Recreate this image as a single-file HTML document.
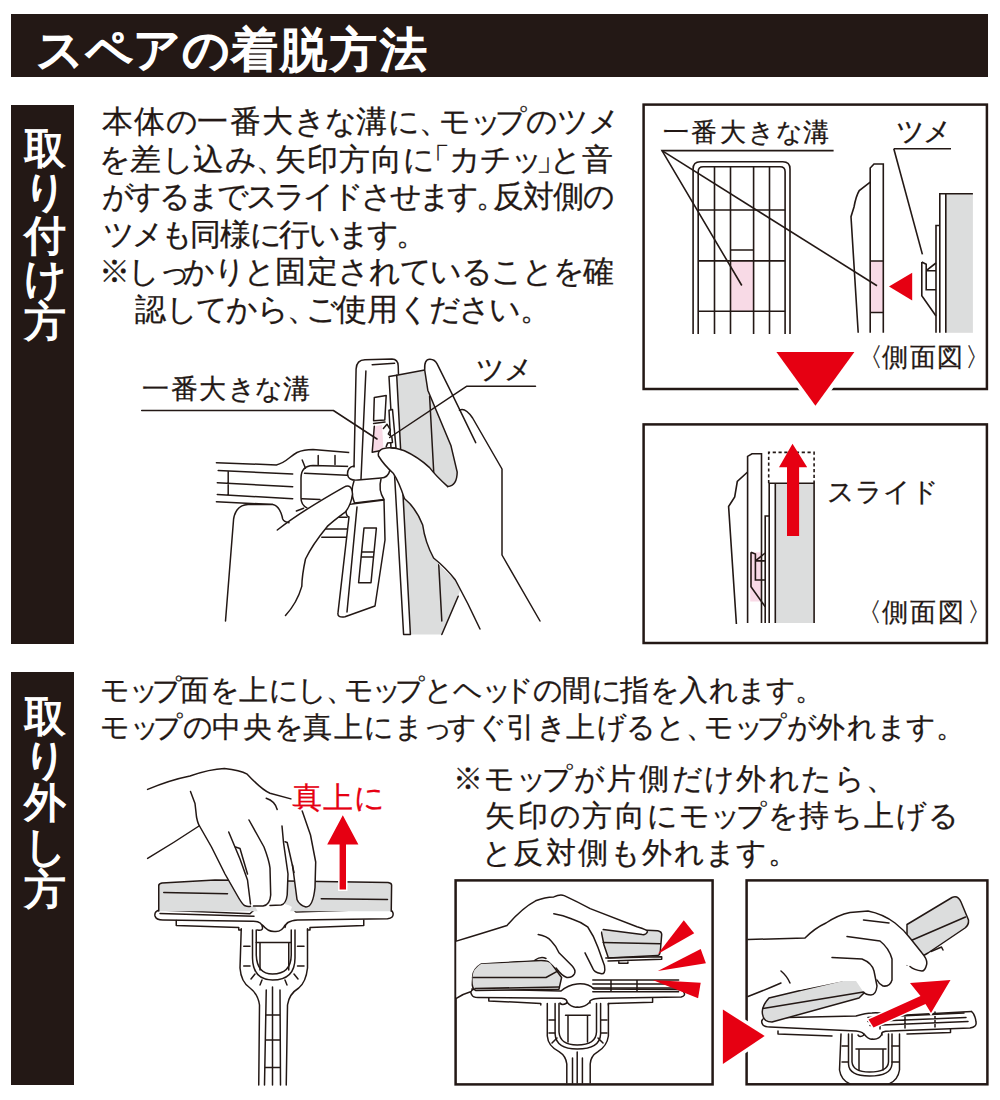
<!DOCTYPE html>
<html lang="ja"><head><meta charset="utf-8">
<style>
html,body{margin:0;padding:0;background:#fff;}
body{width:1000px;height:1100px;position:relative;overflow:hidden;font-family:"Liberation Sans",sans-serif;color:#231815;}
.t{position:absolute;white-space:nowrap;line-height:1;-webkit-text-stroke:0.25px #231815;}
#hdr{-webkit-text-stroke:2px #fff;color:#fff;}
.v{position:absolute;color:#fff;-webkit-text-stroke:1.3px #fff;font-size:42px;line-height:43.3px;width:1em;white-space:normal;text-align:center;}
.r{margin-right:-0.5em}.l{margin-left:-0.5em}.p{margin-right:-0.35em}.s{margin-right:-0.2em}.k{margin-right:2px}
.bar{position:absolute;background:#231815;}
svg{position:absolute;left:0;top:0;}
</style></head>
<body>
<div class="bar" style="left:11px;top:14.2px;width:976.8px;height:63px;"></div>
<div class="bar" style="left:11px;top:104.7px;width:63.1px;height:538.9px;"></div>
<div class="bar" style="left:11px;top:672.3px;width:63.1px;height:412.5px;"></div>
<div class="v" id="v1" style="left:24px;top:127px;">取り付け方</div>
<div class="v" id="v2" style="left:24px;top:694.7px;">取り外し方</div>
<!--TEXT-->
<div class="t" id="hdr" style="left:36.0px;top:26.0px;font-size:47px;letter-spacing:0.66px">スペアの<span class="k">着</span><span class="k">脱</span><span class="k">方</span><span class="k">法</span></div>
<div class="t" id="a1" style="left:102.0px;top:106.0px;font-size:31px;letter-spacing:-0.86px"><span class="k">本</span><span class="k">体</span>の<span class="k">一</span><span class="k">番</span><span class="k">大</span>きな<span class="k">溝</span>に<span class="p">、</span>モ<span class="s">ッ</span>プのツメ</div>
<div class="t" id="a2" style="left:98.5px;top:143.6px;font-size:31px;letter-spacing:-0.94px">を<span class="k">差</span>し<span class="k">込</span>み<span class="p">、</span><span class="k">矢</span><span class="k">印</span><span class="k">方</span><span class="k">向</span>に<span class="l">「</span>カチ<span class="s">ッ</span><span class="r">」</span>と<span class="k">音</span></div>
<div class="t" id="a3" style="left:101.5px;top:181.2px;font-size:31px;letter-spacing:-3.18px">がするまでスライドさせます<span class="p">。</span><span class="k">反</span><span class="k">対</span><span class="k">側</span>の</div>
<div class="t" id="a4" style="left:103.0px;top:218.8px;font-size:31px;letter-spacing:-2.98px">ツメも<span class="k">同</span><span class="k">様</span>に<span class="k">行</span>います<span class="p">。</span></div>
<div class="t" id="a5" style="left:98.5px;top:256.4px;font-size:31px;letter-spacing:-1.38px">※し<span class="s">っ</span>かりと<span class="k">固</span><span class="k">定</span>されていることを<span class="k">確</span></div>
<div class="t" id="a6" style="left:134.5px;top:294.0px;font-size:31px;letter-spacing:-1.69px"><span class="k">認</span>してから<span class="p">、</span>ご<span class="k">使</span><span class="k">用</span>ください<span class="p">。</span></div>
<div class="t" id="b1" style="left:100.0px;top:676.0px;font-size:29px;letter-spacing:-1.28px">モ<span class="s">ッ</span>プ<span class="k">面</span>を<span class="k">上</span>にし<span class="p">、</span>モ<span class="s">ッ</span>プとヘ<span class="s">ッ</span>ドの<span class="k">間</span>に<span class="k">指</span>を<span class="k">入</span>れます<span class="p">。</span></div>
<div class="t" id="b2" style="left:100.0px;top:713.0px;font-size:29px;letter-spacing:-0.45px">モ<span class="s">ッ</span>プの<span class="k">中</span><span class="k">央</span>を<span class="k">真</span><span class="k">上</span>にま<span class="s">っ</span>すぐ<span class="k">引</span>き<span class="k">上</span>げると<span class="p">、</span>モ<span class="s">ッ</span>プが<span class="k">外</span>れます<span class="p">。</span></div>
<div class="t" id="c1" style="left:452.5px;top:763.5px;font-size:30px;letter-spacing:1.08px">※モ<span class="s">ッ</span>プが<span class="k">片</span><span class="k">側</span>だけ<span class="k">外</span>れたら<span class="p">、</span></div>
<div class="t" id="c2" style="left:485.0px;top:800.7px;font-size:30px;letter-spacing:0.63px"><span class="k">矢</span><span class="k">印</span>の<span class="k">方</span><span class="k">向</span>にモ<span class="s">ッ</span>プを<span class="k">持</span>ち<span class="k">上</span>げる</div>
<div class="t" id="c3" style="left:482.0px;top:837.9px;font-size:30px;letter-spacing:0.31px">と<span class="k">反</span><span class="k">対</span><span class="k">側</span>も<span class="k">外</span>れます<span class="p">。</span></div>
<div class="t" id="l1" style="left:663.0px;top:119.0px;font-size:26px;letter-spacing:0.48px"><span class="k">一</span><span class="k">番</span><span class="k">大</span>きな<span class="k">溝</span></div>
<div class="t" id="l2" style="left:896.0px;top:117.5px;font-size:28px;letter-spacing:-2.00px">ツメ</div>
<div class="t" id="l3" style="left:870.0px;top:343.5px;font-size:26px;letter-spacing:-0.55px"><span class="l">〈</span><span class="k">側</span><span class="k">面</span><span class="k">図</span><span class="r">〉</span></div>
<div class="t" id="l4" style="left:827.0px;top:479.0px;font-size:27px;letter-spacing:0.00px">スライド</div>
<div class="t" id="l5" style="left:869.0px;top:599.0px;font-size:26px;letter-spacing:0.15px"><span class="l">〈</span><span class="k">側</span><span class="k">面</span><span class="k">図</span><span class="r">〉</span></div>
<div class="t" id="l6" style="left:142.0px;top:376.0px;font-size:27px;letter-spacing:-0.48px"><span class="k">一</span><span class="k">番</span><span class="k">大</span>きな<span class="k">溝</span></div>
<div class="t" id="l7" style="left:475.5px;top:356.0px;font-size:28px;letter-spacing:-0.80px">ツメ</div>
<div class="t" id="l8" style="color:#e60012;-webkit-text-stroke:0.25px #e60012;left:291.5px;top:783.0px;font-size:30px;letter-spacing:-1.00px"><span class="k">真</span><span class="k">上</span>に</div>
<!--/TEXT-->
<svg width="1000" height="1100" viewBox="0 0 1000 1100">
<!--FRAMES-->
<g fill="none" stroke="#231815" stroke-width="2.5">
<rect x="643.6" y="104.6" width="343.3" height="284.4"/>
<rect x="643.6" y="424.4" width="343.3" height="218.6"/>
<rect x="455.6" y="880.4" width="257" height="204"/>
<rect x="746.6" y="880.4" width="240.8" height="203.9"/>
</g>
<!--F1-->
<g fill="none" stroke="#231815" stroke-width="1.6" stroke-linejoin="miter">
<rect x="730.5" y="261" width="23.1" height="50.3" fill="#f8dae6" stroke="none"/>
<path d="M693.1,334 V169 Q693.1,161.8 700.3,161.8 H782.8 Q790,161.8 790,169 V334"/>
<path d="M698.2,334 V171.7 Q698.2,166.7 703.2,166.7 H780.1 Q785.1,166.7 785.1,171.7 V334"/>
<path d="M714.5,166.7V334 M730.5,166.7V334 M753.6,166.7V334 M769.5,166.7V334"/>
<path d="M698.2,210H785.1 M698.2,260.9H785.1 M698.2,311.3H785.1 M730.5,250H753.6"/>
<rect x="870.2" y="261" width="13.1" height="51.5" fill="#f8dae6" stroke="none"/>
<path d="M870.2,332.8 V168 L874,164 H883.3 V332.8 M870.2,261H883.3 M870.2,312.5H883.3"/>
<path d="M870.2,182.2 L859.3,190.5 Q856,196 854,207 L851,216.7 L858.2,332.8"/>
<polyline points="893.8,148.7 951,148.7"/>
<line x1="893.8" y1="148.7" x2="922.4" y2="254.4"/>
<rect x="946" y="193.7" width="26.9" height="139.1" fill="#dcdddd" stroke="none"/>
<path d="M939.8,332.8V193.7H972.9 M945.8,193.7V332.8 M936,332.8V225.5H939.8"/>
<path d="M921.8,262 L926.2,264.2 V289.8 H936 M921.8,262 V295.8 L936,316 M926.2,270.7 L936,263 M926.2,270.7H936"/>
<polyline points="833.6,150.6 662,150.6 741.8,285.5"/>
<line x1="662" y1="150.6" x2="877" y2="285.7"/>
</g>
<polygon points="889,286.4 912.2,272.8 912.2,300.4" fill="#e60012"/>
<!--F2-->
<g fill="none" stroke="#231815" stroke-width="1.6">
<rect x="750.2" y="552.3" width="11.3" height="49.2" fill="#f8dae6" stroke="none"/>
<path d="M747.6,623 V456.4 L752,453.8 H761.5 V623"/>
<path d="M747.6,472 L737.3,481.5 L734.7,497 L728.6,506.5 L736.4,624"/>
<rect x="775.3" y="483.2" width="38.8" height="139.8" fill="#dcdddd" stroke="none"/>
<path d="M769.2,623V483.2H814.1V623 M775.3,483.2V623 M765.2,623V516H769.2"/>
<path d="M751,552.3 L755.4,554 V580 H765.2 M751,552.3 V586.8 L765.2,606.7 M755.4,560.9 L765.2,553 M755.4,560.9H765.2"/>
<path d="M768.7,483.2V452.4H814.1V483.2" stroke-dasharray="3.2,2.6"/>
</g>
<path d="M792.5,443.8 L807.2,467.3 H799.1 V535.9 H787 V467.3 H779 Z" fill="#e60012"/>
<!--TRI1-->
<polygon points="776.4,352 854.4,352 815.4,405.8" fill="#e60012" stroke="#fff" stroke-width="8" stroke-linejoin="miter" paint-order="stroke"/>
<!--TRI2-->
<polygon points="722.9,1009.6 722.9,1064 764.7,1036" fill="#e60012" stroke="#fff" stroke-width="7" paint-order="stroke"/>
<!--ILL1-->
<g fill="none" stroke="#231815" stroke-width="1.5" stroke-linejoin="round" stroke-linecap="round">
<!-- pole -->
<path d="M216.4,462.7 L276.4,464.9 C286,463 290,456 297,452.5 C303,450 308,449.6 313,449.6 L352,452.7"/>
<path d="M218.2,470.4 L292.7,474 M217.3,482.7 L292.7,486.7 M217.3,494.5 L292.7,498.7 M216.4,501.8 L272.7,504.5 M228.2,471.5 V495"/>
<!-- connector -->
<path d="M352,466.4 L313,465.5 Q301,466 301,478 L301,498 Q301,505 307.3,508.2"/>
<path d="M304.5,473.3 L352,475.5 M301.8,498.7 L320,499.5 M302.2,460 L305.5,468.2 M318.2,455.5 V464.5 M335,455.5 V464.5"/>
<path d="M327,517.3 H347 M325.5,529 H347 M321.8,537.3 H347 M296.4,511 L303.6,508.2"/>
<!-- head upper -->
<path d="M352,516 L347.5,474 L356.1,369 Q356.6,360 365,359.8 L392,359.1 Q398,359.3 398.2,366 L401,440 L401,516 Z" fill="#fff" stroke="none"/>
<path d="M354,467 L356.1,369 Q356.6,360 365,359.8 L392,359.1 Q398,359.3 398.2,366 L399,390"/>
<path d="M372.2,364.7 L394.6,363.3 M365.9,371 L361,479"/>
<path d="M374.3,397.6 L386.2,395.5 L384.8,420 L373.6,420.7 Z M373.6,423.5 L385,422"/>
<path d="M374.3,426.3 L382,425 L383.4,448 L372.2,452.2 Z" fill="#f8dae6" stroke="none"/>
<path d="M374.3,426.3 L372.2,452.2 L383.4,450"/>
<!-- joint -->
<path d="M390,470 Q388,478 381,478 L358,480 Q348,481 347.5,474 Q347.5,467 354,466"/>
<path d="M354,481 Q350,492 354.5,503 L384,499.5 Q378,490 381,479"/>
<!-- head lower -->
<path d="M352,504 Q346,504 346,511 Q346,516 349,517 L338,612.7 Q337,618 345,616.8 L375,606 L385,540 L384,500 Z" fill="#fff"/>
<path d="M364,528 L376.4,528 L371,582.7 L358.6,582.7 Z M361.5,552 L374,552 M361,557 L373.5,557 M357,507 L347,612"/>
<!-- mop -->
<path d="M389,376.6 L424.7,370 L427.8,390.2 L451,445.8 L457.2,472.1 L470,560 L458.2,596.3 L441.8,634.5 L403.6,634.5 Z" fill="#dcdddd" stroke="none"/>
<path d="M389,376.6 L396.7,375.2 L410.4,634.5 L403.6,634.5 Z" fill="#fff"/>
<path d="M396.7,375.2 L424.7,370 M429.6,396.2 L441.8,620.9 M441.8,634.5 L458.2,596.3"/>
<!-- tab -->
<path d="M389,410.2 L392.5,409.5 L396,448 L391,448 Z" fill="#fff"/>
<path d="M383.4,428.4 L387,424.2 L390.4,429.8 L388.3,434 L391.8,436.8 L392.5,442.4 L387.6,443.1 L386.2,446.6" fill="#fff"/>
<!-- left hand -->
<path d="M225.5,630 L233.6,519 Q236,505 248,504.5 L272.7,504.5 Q280,506 282.7,519 L290,523 L309,506.4 L343.6,487.3 Q352,484 352,494 Q351,505 345.5,511.8 L327.3,526.4 Q312,545 305.5,559 Q302,575 301.8,586.4 Q297,603 285.5,615.5 L285,630 Z" fill="#fff" stroke="none"/>
<path d="M225.5,621 L233.6,519 Q236,505 248,504.5 L272.7,504.5 Q280,506 282.7,519 Q284,522 289,522.7"/>
<path d="M277.3,530 Q300,512 343.6,487.3 Q352,483 352.5,494 Q351,505 345.5,511.8 Q333,521 327.3,526.4 Q312,545 305.5,559 Q302,575 301.8,586.4 Q297,603 285.5,615.5"/>
<!-- right hand -->
<path d="M430,359.3 Q436,359.5 440,368 L452.5,394.8 L459.5,410.3 Q465,408 472.6,418 L502,469 L502,555 L540,621 L480,629 Q462,595 455.4,580 Q440,567 433.6,558 Q425,540 422.7,525 Q416,505 404.4,498.5 Q400,486 393.2,473.2 Q384,465 380,458 Q378,449 386.2,448 Q396,449 404.4,450.8 Q418,456 429.6,467.6 Q436,476 447.8,486.6 Q457,486 457.2,472.1 L451,445.8 L427.8,390.2 L424.7,370 Q424,359 430,359.3 Z" fill="#fff" stroke="none"/>
<path d="M447.8,486.6 Q457,486 457.2,472.1 L451,445.8 L427.8,390.2 L424.7,370 Q424,359 430,359.3 Q435,359.5 437.1,363.9 L452.5,394.8 L475.7,442.7"/>
<path d="M459.5,410.3 Q465,407 472.6,418 L502,469 L502,555 L540,621"/>
<path d="M447.8,486.6 Q436,476 429.6,467.6 Q418,457 404.4,450.8 Q394,447 386.2,448 Q377,449 378.5,456 Q384,465 393.2,473.2 Q399,482 404.4,498.5 Q416,508 422.7,525 Q425,542 433.6,558 Q446,568 455.4,580 Q468,603 480,629"/>
<!-- leader lines -->
<path d="M141.7,410.5 L333.4,410.5 L377,439 M535.5,386.3 L466.5,386.3 L389.7,437.5"/>
</g>
<!--ILL2-->
<g fill="none" stroke="#231815" stroke-width="1.5" stroke-linejoin="round" stroke-linecap="round">
<!-- pole & yoke -->
<path d="M241.25,928.75 L240,968 Q241,982 250,988 Q258,994 259.5,1005 L258.75,1085 M307.5,928.75 L307.5,968 Q306,982 298.75,988 Q289,994 287.5,1005 L286.25,1085" fill="#fff"/>
<path d="M252.5,930 L252.5,958 Q253,980 272.5,980 Q295,980 295,958 L295,930"/>
<path d="M256.25,930 V955 Q257,974 272.5,974 Q291,974 291.25,955 V930" />
<path d="M256.25,942.5 H291.25 M260,942.5 V970 M288.75,942.5 V970"/>
<path d="M243.75,946.25 H250 M243.75,966 H250 M297.5,946.25 H304 M297.5,966 H304 M251,979 L255,974 M294,974 L298,979 M260,985 L262,980 M285,980 L287,985"/>
<path d="M266.25,990 L264.5,1085 M272.5,987 L272.5,1085 M280,990 L280.5,1085 M266,1015 H280 M265.5,1040 H280.2 M265,1067.5 H280.4"/>
<!-- base plate -->
<path d="M160,910 Q154,911 155,916 Q156,920 163,920 L252.5,921.25 Q262,921 262.5,927.5 Q263,931 257.5,930 M285,927.5 Q285,921 297.5,920 L387.5,918.75 Q394,918 393,913 Q392,909 386,909" fill="none"/>
<path d="M176.25,920.5 V925.5 L238.75,927.5 V930 H241.25 M307.5,930 H310 V927.5 L363.75,925.5 V920"/>
<path d="M262.5,925 Q268,932 275,931.5 Q282,932 285,925"/>
<path d="M160,910 L250,913.75 Q258,906 262.5,906 L285,906 Q290,906 296,912 L386,909"/>
<!-- mop slab -->
<path d="M158.75,886 Q158,883.5 162,883 L215,880 L390,882.5 L391.6,884.4 L391.25,911.25 L158.75,911.25 Z" fill="#dcdddd" stroke="none"/>
<path d="M158.75,911 V886 Q158.5,883.5 162,883 L215,880 L388,882.5 Q391.5,883 391.6,885 L391.25,911.25"/>
<path d="M163.75,892.5 L227.5,893.75 M321.25,898.75 L387.5,899.5 M160,913.5 L254,916.3"/>
<!-- center joint -->
<path d="M255,906.25 Q267.5,902 275,904 Q285,902 292,907 Q288,915 285,924 Q275,931 262.5,924 Q260,914 255,906.25 Z" fill="#fff" stroke="none"/>
<!-- hand -->
<path d="M147.6,789.4 Q170,780 190,776 Q210,769 224.4,768.5 Q240,770 247.2,774.2 Q262,790 270,793.2 L302.2,811 L310.5,835 L315.7,862 L315,887.5 Q313,907 306,907 Q298,906 297,899.5 L294,880 L290,858 L287,842 L288,874 L287.2,895 Q286,905 278,905.5 L267,905.5 Q260,907 253.5,906.2 L250.5,906.2 Q246,907 244.5,905.5 L237,895 L225,874 L211.5,847 L199.5,826 L180,838 L147.6,858.4 Z" fill="#fff" stroke="none"/>
<path d="M147.6,789.4 Q170,780 190,776 Q210,769 224.4,768.5 Q240,770 247.2,774.2 Q262,790 270,793.2 L290.9,798.9"/>
<path d="M147.6,858.4 Q175,842 199,826"/>
<path d="M190.5,791.5 L195,803.5 Q196,812 196.5,817 Q198,824 199.5,826 L211.5,847 L225,874 L237,895 Q242,904 244.5,905.5 Q248,907 250.5,906.2"/>
<path d="M228.7,832 L240,859 L247.5,880 L250.5,904"/>
<path d="M249,820 L264,847 Q269,860 270,868 L270.7,895 Q270,905 263,906 L253.5,906"/>
<path d="M282,826 L283.5,842.5 L288,874 L287.2,895 Q286,904 281,905 L270,905.5"/>
<path d="M302.2,811 L310.5,835 L315.7,862 L315,887.5 Q313,907 306,907 Q299,905 297,899.5 L292.5,865"/>
<path d="M266.2,798.2 Q275,801 277.2,809.5"/>
<path d="M235.5,847 L240,848.5 L247.5,874 M285,841.7 L287.2,842.5 L294,872.5"/>
</g>
<path d="M342.8,815.3 L358.4,844.5 H346 V889.4 H339.6 V844.5 H327.2 Z" fill="#e60012" stroke="#fff" stroke-width="3" paint-order="stroke"/>
<!--ILL3-->
<g fill="none" stroke="#231815" stroke-width="1.5" stroke-linejoin="round" stroke-linecap="round">
<!-- F3 yoke -->
<path d="M547.3,1003.5 V1036 Q548,1046 559,1051.6 Q566,1056 566.8,1064 V1083 M608.4,1003.5 V1036 Q607,1046 598,1051.6 Q590.5,1056 590.2,1064 V1083" fill="#fff"/>
<path d="M555.1,1003.5 V1034 Q556,1049 577.2,1049 Q600,1049 600.6,1034 V1003.5 M559,1003.5 V1032 Q560,1045 577.2,1045 Q596,1045 596.5,1032 V1003.5"/>
<path d="M565.5,1015.2 H590.2 M568,1015.2 V1042 M587.5,1015.2 V1042 M549,1020 H555 M549,1033 H555 M601,1020 H607 M601,1033 H607 M552,1043 L557,1038 M598,1038 L603,1043"/>
<path d="M572.5,1058 V1083 M577.2,1052 V1083 M582.4,1058 V1083"/>
<!-- F3 base plate -->
<path d="M474,989 Q469,991 471.9,995 Q473,997.5 478,997.5 L561.6,998.3 Q568,999 566.8,1003 Q562,1006 560,1003 M590,1003 Q588,999 600.6,998.3 L681.2,997 Q686,996 683.8,992 Q682,989.5 677,989.5" />
<path d="M488.8,998.3 V1000.9 L540.8,1003.5 V1005 M608.4,1005 V1003.5 L652.6,1002.2 V998.5"/>
<path d="M566.8,1002 Q572,1008 577.2,1007 Q584,1008 590,1002"/>
<path d="M592.8,980.1 L678.6,980.1 M592.8,984 L678.6,984 M592.8,987.9 L678.6,987.9 M592.8,991.8 L678.6,991.8 M611,980.1 V991.8 M637,980.1 V991.8"/>
<path d="M471.9,989 L561,991 Q568,985 577,984 Q588,983 594,989 L677,989.5"/>
<!-- F3 right slab -->
<path d="M600.6,928.1 L657.8,930.7 Q661.7,931.5 661.7,934.6 L660.4,950.2 Q660,955.4 657.8,955.4 L608.4,958 L604,945 Z" fill="#dcdddd"/>
<path d="M603.2,942.4 L660.4,943.7 M605.8,958 L661.7,956.7 V959.3 L608,961 M618.8,961 V963.2 H627.9 V960.5"/>
<!-- F3 left slab -->
<path d="M471.9,978.8 Q471,969 481,963.2 L540.8,960.6 Q548,960.5 551.2,963.2 L561.6,977.5 L559,989.2 L475.8,990.5 Q471.5,989 471.9,978.8 Z" fill="#dcdddd"/>
<path d="M473.2,977.5 L546,977.5 L560.3,969.7 M475,988.5 L559,987"/>
<!-- F3 hand -->
<path d="M456.3,941.1 Q480,934 507,925.5 Q522,908 535.6,900.8 Q545,897 553.8,896.9 Q560,894 564.2,895.6 Q578,902 590.2,908.6 L637,926.8 Q648,930 647.4,932 Q646,935 642.2,934.6 L603.2,929.4 Q597,935 598,947.6 L604.5,965.8 Q606,975 600.6,973.6 Q594,972 592.8,968.4 L585,952.8 Q580,960 574.6,973.6 Q570,979 566.8,977.5 L556,968 L546,958.5 L535,960 L481,963.2 Q471,969 471.9,978.8 L470.6,991.8 L456.3,998.3 Z" fill="#fff" stroke="none"/>
<path d="M456.3,941.1 Q480,934 507,925.5 Q522,908 535.6,900.8 Q545,897 553.8,896.9 Q560,894 564.2,895.6 Q578,902 590.2,908.6 L637,926.8 Q648,930 647.4,932 Q646,935 642.2,934.6 L603.2,929.4"/>
<path d="M456.3,998.3 Q463,994 470.6,991.8"/>
<path d="M538.2,934.6 Q547,936 551.2,941.1 Q556,946 559,952.8 L572,965.8 Q576,970 574.6,973.6 Q572,978 566.8,977.5 Q562,976 556,968"/>
<path d="M553.8,913.8 Q563,915 572,919 Q581,922 587.6,926.8 Q594,936 598,947.6 L604.5,965.8 Q606,975 600.6,973.6 Q594,972 592.8,968.4 L585,952.8"/>
<path d="M535,960 Q541,956 546,958.5"/>
</g>
<g fill="#e60012">
<polygon points="657.8,954.1 683.8,920.3 694.2,933.3"/>
<polygon points="657.8,971 700.7,948.9 705.9,963.2"/>
<polygon points="652.6,980.1 700.7,982.7 698.1,998.3"/>
</g>
<!-- F4 -->
<g fill="none" stroke="#231815" stroke-width="1.5" stroke-linejoin="round" stroke-linecap="round">
<path d="M841,1034 L839.5,1070 Q841,1080 850,1084 M899.5,1034 V1070 Q898,1080 889,1084" fill="#fff"/>
<path d="M848.5,1034 V1064 Q849,1076 869.5,1076 Q891,1076 892,1064 V1034 M852,1034 V1062 Q853,1072 869.5,1072 Q888,1072 888.5,1062 V1034"/>
<path d="M856,1049 H886 M859,1049 V1070 M883,1049 V1070 M842,1046 H848 M842,1062 H848 M892,1046 H899 M892,1062 H899"/>
<!-- plate -->
<path d="M764,1018 Q760,1021 763,1025 Q765,1027 770,1027 L856,1031 Q864,1032 864,1035 Q860,1038 858,1035 M882,1035 Q880,1031 890,1031 L970,1028 Q977,1027 976,1022 Q975,1014 971.5,1011.5"/>
<path d="M778,1031 V1034 L832,1036 M907,1034 L950.5,1032.5 V1029"/>
<path d="M864,1034 Q869,1040 872,1039 Q879,1040 882,1034"/>
<path d="M868,1017.5 L964,1013 M868,1021.5 L966,1017.5 M870,1025.5 L968,1021.5 M880,1014 V1029 M905,1013 V1028 M935,1012 V1027"/>
<path d="M764,1018 L856,1016 Q866,1013 872,1013 Q882,1012 888,1016 L971.5,1011.5"/>
<!-- lower slab -->
<path d="M763,1016 Q760,1008 769,998 L844,980 L856,980 Q862,980 865,992 L859,998 L772,1022 Q764,1022 763,1016 Z" fill="#dcdddd"/>
<path d="M763,1008.5 L863.5,992"/>
<!-- upper slab -->
<path d="M907,924.5 L952,897.5 Q958,895 961,902 L968.5,920 Q969,925 965,928 L928,953 L907,965 Z" fill="#dcdddd"/>
<path d="M910,941 L965.5,917 M931,951.5 L941.5,947 L943,950"/>
<!-- hand -->
<path d="M748,939.5 L805,938 Q815,928 826,923 Q838,915 850,912.5 L868,911 Q883,914 895,923 Q904,930 910,938 L922,953 Q928,960 926.5,965 Q925,971 922,971 Q914,970 910,966.5 L892,959 L892,980 Q890,987 883,986 L877,980 L874,971 L877,986 Q876,995 871,995 Q866,995 863.5,992 L856,981 L844,981 L800,990 L781,983 L748,996.5 Z" fill="#fff" stroke="none"/>
<path d="M748,939.5 L805,938 Q815,928 826,923 Q838,915 850,912.5 L868,911 Q883,914 895,923 Q904,930 910,938 L922,953 Q928,960 926.5,965 Q925,971 922,971 Q914,970 910,966.5"/>
<path d="M748,996.5 Q765,990 781,983 M781,971 Q787,976 790,983"/>
<path d="M847,936.5 L880,941 Q889,948 892,959 L892,980 Q890,987 883,986 Q879,984 877,980"/>
<path d="M832,957.5 L862,959 Q872,963 874,971 L877,986 Q876,995 871,995 Q866,995 863.5,992"/>
<path d="M863.5,920 L889,923"/>
</g>
<path d="M950.5,980 L931,1013 L925.5,1004 L873.5,1027.5 L868.5,1019.5 L920.5,996 L910,983 Z" fill="#e60012" stroke="#fff" stroke-width="3" paint-order="stroke"/>
<!--ILLUS-->
</svg>
</body></html>
